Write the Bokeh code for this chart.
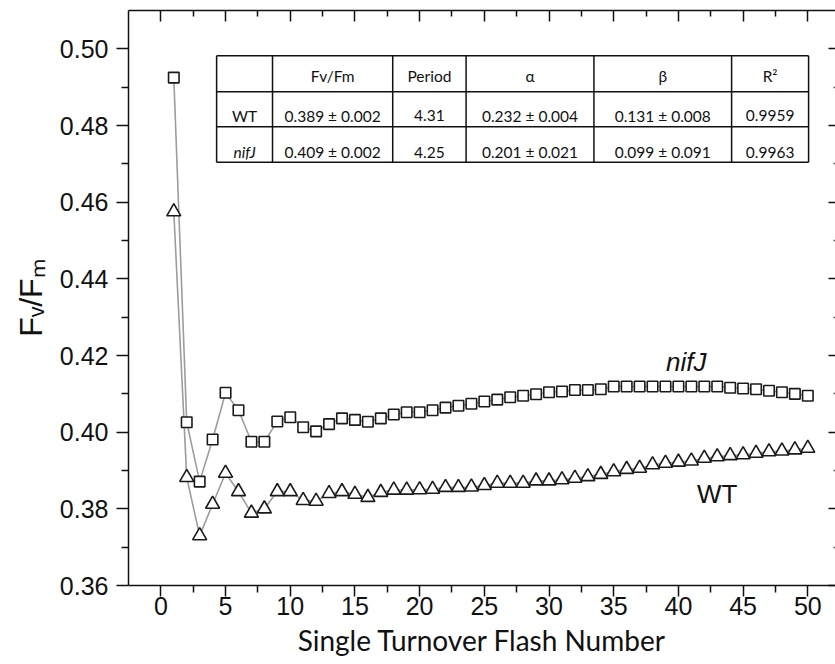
from bokeh.plotting import figure
from bokeh.models import (LinearAxis, FixedTicker, PrintfTickFormatter, Range1d,
                          CustomJSTickFormatter, ColumnDataSource)
from bokeh.embed import file_html
from bokeh.resources import INLINE
from bokeh.core.properties import value

# ---------------- data ----------------
flash = list(range(1, 51))
nifj = [0.4925, 0.4026, 0.3871, 0.3981, 0.4103, 0.4057, 0.3975, 0.3975, 0.4028, 0.4039,
        0.4013, 0.4002, 0.4021, 0.4036, 0.4032, 0.4027, 0.4036, 0.4046, 0.4052, 0.4052,
        0.4057, 0.4064, 0.4069, 0.4074, 0.4080, 0.4085, 0.4091, 0.4095, 0.4099, 0.4104,
        0.4106, 0.4110, 0.4110, 0.4112, 0.4119, 0.4119, 0.4119, 0.4119, 0.4119, 0.4119,
        0.4119, 0.4119, 0.4119, 0.4116, 0.4114, 0.4112, 0.4108, 0.4104, 0.4100, 0.4095]
wt = [0.4575, 0.3882, 0.3730, 0.3812, 0.3893, 0.3845, 0.3789, 0.3800, 0.3845, 0.3845,
      0.3822, 0.3820, 0.3840, 0.3845, 0.3838, 0.3830, 0.3843, 0.3849, 0.3849, 0.3850,
      0.3851, 0.3856, 0.3856, 0.3857, 0.3861, 0.3867, 0.3867, 0.3867, 0.3873, 0.3873,
      0.3876, 0.3880, 0.3884, 0.3890, 0.3897, 0.3903, 0.3906, 0.3915, 0.3919, 0.3922,
      0.3925, 0.3932, 0.3936, 0.3939, 0.3941, 0.3945, 0.3949, 0.3951, 0.3954, 0.3958]

x_ticks = [0, 5, 10, 15, 20, 25, 30, 35, 40, 45, 50]
x_minor = [2.5, 7.5, 12.5, 17.5, 22.5, 27.5, 32.5, 37.5, 42.5, 47.5]
y_ticks = [0.36, 0.38, 0.40, 0.42, 0.44, 0.46, 0.48, 0.50]
y_minor = [0.37, 0.39, 0.41, 0.43, 0.45, 0.47, 0.49]

table_header = ["", "Fv/Fm", "Period", "α", "β", "R²"]
table_rows = ["WT", "nifJ"]
fvfm = ["0.389 ± 0.002", "0.409 ± 0.002"]
period = ["4.31", "4.25"]
alpha = ["0.232 ± 0.004", "0.201 ± 0.021"]
beta = ["0.131 ± 0.008", "0.099 ± 0.091"]
r2 = ["0.9959", "0.9963"]

# ---------------- figure ----------------
p = figure(width=835, height=664, x_range=Range1d(-2.5, 52.14), y_range=Range1d(0.36, 0.51),
           output_backend="svg", toolbar_location=None,
           min_border_left=128, min_border_right=0, min_border_top=10, min_border_bottom=79)
p.grid.visible = False
p.outline_line_color = None
p.background_fill_color = "white"
p.border_fill_color = "white"

TICK_FONT = "Liberation Sans"
INK = "#111111"

xa = p.xaxis[0]
xa.ticker = FixedTicker(ticks=x_ticks, minor_ticks=x_minor)
xa.axis_line_width = 1.5
xa.axis_line_color = INK
xa.major_tick_line_color = INK
xa.minor_tick_line_color = INK
xa.major_tick_line_width = 1.5
xa.minor_tick_line_width = 1.5
xa.major_tick_in = 0
xa.major_tick_out = 11
xa.minor_tick_in = 0
xa.minor_tick_out = 7
xa.major_label_text_font = TICK_FONT
xa.major_label_text_font_size = "25px"
xa.major_label_text_color = INK
xa.major_label_standoff = 0
xa.axis_label = "Single Turnover Flash Number"
xa.axis_label_text_font = "Lato"
xa.axis_label_text_font_style = "normal"
xa.axis_label_text_font_size = "28px"
xa.axis_label_text_color = INK
xa.axis_label_standoff = 5

ya = p.yaxis[0]
ya.ticker = FixedTicker(ticks=y_ticks, minor_ticks=y_minor)
ya.formatter = PrintfTickFormatter(format="%.2f")
ya.axis_line_width = 1.5
ya.axis_line_color = INK
ya.major_tick_line_color = INK
ya.minor_tick_line_color = INK
ya.major_tick_line_width = 1.5
ya.minor_tick_line_width = 1.5
ya.major_tick_in = 0
ya.major_tick_out = 12
ya.minor_tick_in = 0
ya.minor_tick_out = 7
ya.major_label_text_font = TICK_FONT
ya.major_label_text_font_size = "25px"
ya.major_label_text_color = INK
ya.major_label_standoff = 8
ya.axis_label = "Fᵥ/Fₘ"
ya.axis_label_text_font = "Liberation Sans"
ya.axis_label_text_font_style = "normal"
ya.axis_label_text_font_size = "32px"
ya.axis_label_text_color = INK
ya.axis_label_standoff = 8

blank = CustomJSTickFormatter(code="return ''")

top = LinearAxis(ticker=FixedTicker(ticks=x_ticks, minor_ticks=x_minor), formatter=blank,
                 major_tick_in=11, major_tick_out=0, minor_tick_in=6, minor_tick_out=0,
                 major_label_standoff=0, major_label_text_font_size="1px",
                 axis_line_width=1.5, major_tick_line_width=1.5, minor_tick_line_width=1.5,
                 axis_line_color=INK, major_tick_line_color=INK, minor_tick_line_color=INK)
p.add_layout(top, "above")

right = LinearAxis(ticker=FixedTicker(ticks=y_ticks, minor_ticks=y_minor), formatter=blank,
                   major_tick_in=7, major_tick_out=0, minor_tick_in=2, minor_tick_out=0,
                   major_label_standoff=0, major_label_text_font_size="1px",
                   axis_line_color=None, major_tick_line_width=1.5, minor_tick_line_width=1.5,
                   major_tick_line_color=INK, minor_tick_line_color="#555555")
p.add_layout(right, "right")

# ---------------- series ----------------
src = ColumnDataSource(dict(flash=flash, nifj=nifj, wt=wt))
p.line("flash", "nifj", source=src, line_color="#9c9c9c", line_width=1.6)
p.line("flash", "wt", source=src, line_color="#9c9c9c", line_width=1.6)
p.scatter("flash", "nifj", source=src, marker="square", size=10.5, fill_color="white",
          line_color="#1a1a1a", line_width=1.6)
p.scatter("flash", "wt", source=src, marker="triangle", size=14, fill_color="white",
          line_color="#1a1a1a", line_width=1.6)

p.text(x=[40.6], y=[0.4182], text=["nifJ"], text_font=value("Liberation Sans"),
       text_font_style="italic", text_font_size="26px", text_align="center",
       text_baseline="middle", text_color=INK)
p.text(x=[43.0], y=[0.3840], text=["WT"], text_font=value("Liberation Sans"),
       text_font_size="26px", text_align="center", text_baseline="middle", text_color=INK)

# ---------------- inset table ----------------
col_edges = [4.31, 8.63, 17.92, 23.59, 33.47, 44.11, 50.06]
row_edges = [0.4982, 0.4888, 0.4797, 0.4704]
n_cols = len(col_edges) - 1
p.segment(x0=[col_edges[0]] * len(row_edges), x1=[col_edges[-1]] * len(row_edges),
          y0=row_edges, y1=row_edges, line_color=INK, line_width=1.5)
p.segment(x0=col_edges, x1=col_edges, y0=[row_edges[0]] * len(col_edges),
          y1=[row_edges[-1]] * len(col_edges), line_color=INK, line_width=1.5)

centers = [(col_edges[i] + col_edges[i + 1]) / 2 for i in range(n_cols)]
row_text_y = [0.4929, 0.4826, 0.4730]
tx, ty, tt, ts = [], [], [], []
for i, h in enumerate(table_header):
    if h:
        tx.append(centers[i]); ty.append(row_text_y[0]); tt.append(h); ts.append("normal")
cols = [table_rows, fvfm, period, alpha, beta, r2]
for r in range(2):
    for c in range(n_cols):
        tx.append(centers[c]); ty.append(row_text_y[r + 1]); tt.append(cols[c][r])
        ts.append("italic" if (c == 0 and r == 1) else "normal")
tsrc = ColumnDataSource(dict(x=tx, y=ty, text=tt, style=ts))
p.text("x", "y", text="text", source=tsrc, text_font=value("Lato"), text_font_style="style",
       text_font_size="15.5px", text_align="center", text_baseline="middle",
       text_color=INK)

open("out.html", "w").write(file_html(p, INLINE))
